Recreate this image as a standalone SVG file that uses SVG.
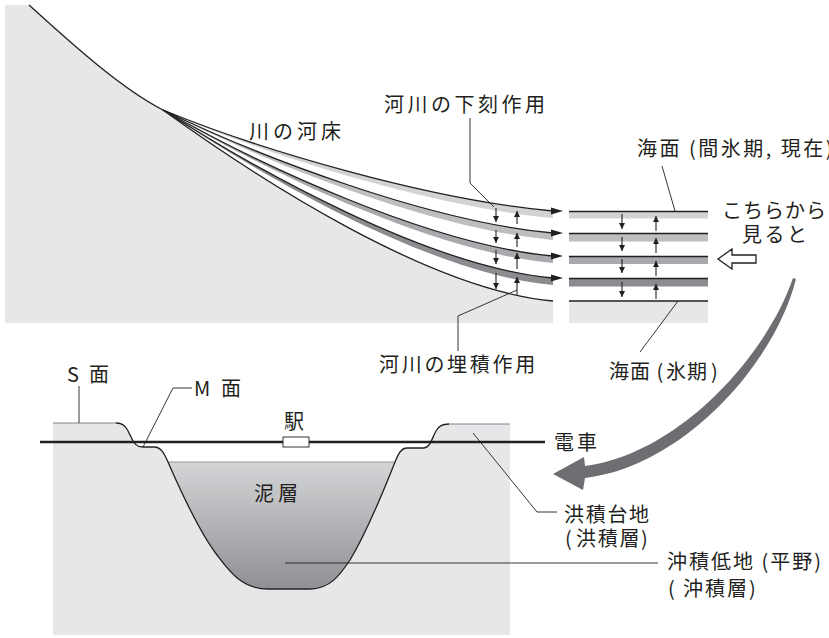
<svg xmlns="http://www.w3.org/2000/svg" width="829" height="638" viewBox="0 0 829 638">
<defs>
<style>
.t{font-family:"Noto Sans CJK JP","Noto Sans",sans-serif;font-size:20px;fill:#231f20}
.ln{fill:none;stroke:#231f20;stroke-width:1.3;stroke-linejoin:round}
.ld{fill:none;stroke:#231f20;stroke-width:0.9}
.ar{fill:none;stroke:#231f20;stroke-width:1.1}
.soil{fill:#e6e7e8}
.head{fill:#231f20}
</style>
<marker id="ah" markerUnits="userSpaceOnUse" markerWidth="7" markerHeight="6" refX="6" refY="3" orient="auto">
<path d="M0,0 L6,3 L0,6 Z" fill="#231f20"/>
</marker>
<linearGradient id="mud" x1="0" y1="0" x2="0" y2="1">
<stop offset="0" stop-color="#d4d5d7"/>
<stop offset="1" stop-color="#8e9093"/>
</linearGradient>
</defs>

<!-- longitudinal profile: slope and river beds -->
<g id="profile">
<path class="soil" d="M5,5 L29,5 C70,42 120,88 163,110 C260,180 430,290 553,301 L553,323 L5,323 Z"/>
<path fill="#d1d3d4" d="M163,110 C260,150 430,200 553,211 L553,218 C430,207 260,153 163,110 Z"/>
<path fill="#bcbec0" d="M163,110 C260,157 430,222 553,233 L553,240 C430,229 260,160 163,110 Z"/>
<path fill="#a7a9ac" d="M163,110 C260,165 430,245 553,256 L553,263 C430,252 260,168 163,110 Z"/>
<path fill="#8a8c8f" d="M163,110 C260,172 430,267 553,278 L553,285 C430,274 260,175 163,110 Z"/>
<path class="ln" d="M29,5 C70,42 120,88 163,110"/>
<path class="ln" d="M163,110 C260,150 430,200 553,211"/>
<path class="ln" d="M163,110 C260,157 430,222 553,233"/>
<path class="ln" d="M163,110 C260,165 430,245 553,256"/>
<path class="ln" d="M163,110 C260,172 430,267 553,278"/>
<path class="ln" d="M163,110 C260,180 430,290 553,301"/>
<path class="head" d="M551,207.5 L563,211 L551,214.5 Z"/>
<path class="head" d="M551,229.5 L563,233 L551,236.5 Z"/>
<path class="head" d="M551,252.5 L563,256 L551,259.5 Z"/>
<path class="head" d="M551,274.5 L563,278 L551,281.5 Z"/>
</g>

<!-- sea level section -->
<g id="sea-levels">
<rect x="569" y="212" width="139" height="6.5" fill="#d1d3d4"/>
<rect x="569" y="234" width="139" height="7.5" fill="#bcbec0"/>
<rect x="569" y="257" width="139" height="7" fill="#a7a9ac"/>
<rect x="569" y="279" width="139" height="7.5" fill="#8a8c8f"/>
<rect class="soil" x="569" y="301" width="139" height="22"/>
<path class="ln" d="M569,211.5 H708 M569,233.5 H708 M569,256.5 H708 M569,278.5 H708 M569,301 H708"/>
</g>

<!-- erosion / deposition arrows -->
<g id="arrows-small" class="ar" marker-end="url(#ah)">
<line x1="496" y1="208" x2="496" y2="222"/>
<line x1="496" y1="230" x2="496" y2="243"/>
<line x1="496" y1="250" x2="496" y2="264"/>
<line x1="496" y1="273" x2="496" y2="289"/>
<line x1="517" y1="224" x2="517" y2="211"/>
<line x1="517" y1="247" x2="517" y2="233"/>
<line x1="517" y1="269" x2="517" y2="253"/>
<line x1="517" y1="295" x2="517" y2="277"/>
<line x1="622" y1="214" x2="622" y2="229"/>
<line x1="622" y1="237" x2="622" y2="251"/>
<line x1="622" y1="259" x2="622" y2="273"/>
<line x1="622" y1="282" x2="622" y2="297"/>
<line x1="656" y1="231" x2="656" y2="216"/>
<line x1="656" y1="253" x2="656" y2="238"/>
<line x1="656" y1="276" x2="656" y2="261"/>
<line x1="656" y1="299" x2="656" y2="284"/>
</g>

<!-- cross-section -->
<g id="cross-section">
<path class="soil" d="M53,423 L118,423 C126,423 128,431 131,437 C134,444 137,447 143,447 L154,447 C161,447 164,453 168,462 C178,485 198,530 217,555 C230,572 242,589 268,589 L310,589 C330,589 340,575 350,560 C365,535 380,500 395,462 C399,452 402,448 407,448 L424,448 C430,448 432,438 436,431 C439,426 442,424 447,424 L510,424 L510,635 L53,635 Z"/>
<path fill="url(#mud)" d="M168,462 L395,462 C380,500 365,535 350,560 C340,575 330,589 310,589 L268,589 C242,589 230,572 217,555 C198,530 178,485 168,462 Z"/>
<path fill="none" stroke="#939598" stroke-width="1" d="M168,462 H395"/>
<path fill="none" stroke="#808285" stroke-width="1" d="M53,423 L116,423 M449,424 L510,424"/>
<path class="ln" d="M116,423 C126,423 128,431 131,437 C134,444 137,447 143,447 L154,447 C161,447 164,453 168,462 C178,485 198,530 217,555 C230,572 242,589 268,589 L310,589 C330,589 340,575 350,560 C365,535 380,500 395,462 C399,452 402,448 407,448 L424,448 C430,448 432,438 436,431 C439,426 442,424 449,424"/>
</g>

<g id="railway">
<line x1="40" y1="442" x2="545" y2="442" stroke="#231f20" stroke-width="2.5"/>
<rect x="283" y="437" width="26" height="10" fill="#fff" stroke="#231f20" stroke-width="0.9"/>
</g>

<!-- view direction arrows -->
<g id="view-arrow">
<path d="M718,259 L732,249 L732,255 L756,255 L756,263 L732,263 L732,269 Z" fill="#fff" stroke="#231f20" stroke-width="1.3" stroke-linejoin="miter"/>
</g>
<g id="turn-arrow">
<path fill="#6d6e71" d="M553,474 L584,457 L585,466 C678,454 766,357 793,278 L796,279 C775,363 684,466 585,478 L583,490 Z"/>
</g>

<!-- leader lines -->
<g id="connectors" class="ld">
<polyline points="470,118 470,183 494,207"/>
<polyline points="517,290 458,316 458,351"/>
<line x1="662" y1="166" x2="675" y2="211"/>
<line x1="678" y1="301" x2="640" y2="352"/>
<line x1="79" y1="386" x2="79" y2="423"/>
<polyline points="192,388 173,388 143,447"/>
<polyline points="473,433 537,512 557,512"/>
<line x1="285" y1="563" x2="658" y2="563"/>
</g>

<!-- labels -->
<g id="labels">
<text class="t" x="384" y="112" letter-spacing="3.5">河川の下刻作用</text>
<text class="t" x="249" y="139" letter-spacing="4">川の河床</text>
<text class="t" x="637" y="156" letter-spacing="2.5">海面 (間氷期, 現在)</text>
<text class="t" x="722" y="218" letter-spacing="1">こちらから</text>
<text class="t" x="742" y="242" letter-spacing="2.5">見ると</text>
<text class="t" x="379" y="372" letter-spacing="2.7">河川の埋積作用</text>
<text class="t" x="609" y="379" letter-spacing="1">海面 (<tspan x="666">氷期</tspan><tspan dx="3">)</tspan></text>
<text class="t" x="67" y="382">S <tspan x="89">面</tspan></text>
<text class="t" x="194" y="396">M <tspan x="221">面</tspan></text>
<text class="t" x="284" y="429">駅</text>
<text class="t" x="554" y="450" letter-spacing="3">電車</text>
<text class="t" x="254" y="501" letter-spacing="4">泥層</text>
<text class="t" x="564" y="522" letter-spacing="1.7">洪積台地</text>
<text class="t" x="565" y="546" letter-spacing="1.7">(<tspan x="576">洪積層</tspan>)</text>
<text class="t" x="667" y="569" letter-spacing="2">沖積低地 (平野)</text>
<text class="t" x="668" y="596" letter-spacing="2">(<tspan x="683">沖積層</tspan>)</text>
</g>
</svg>
